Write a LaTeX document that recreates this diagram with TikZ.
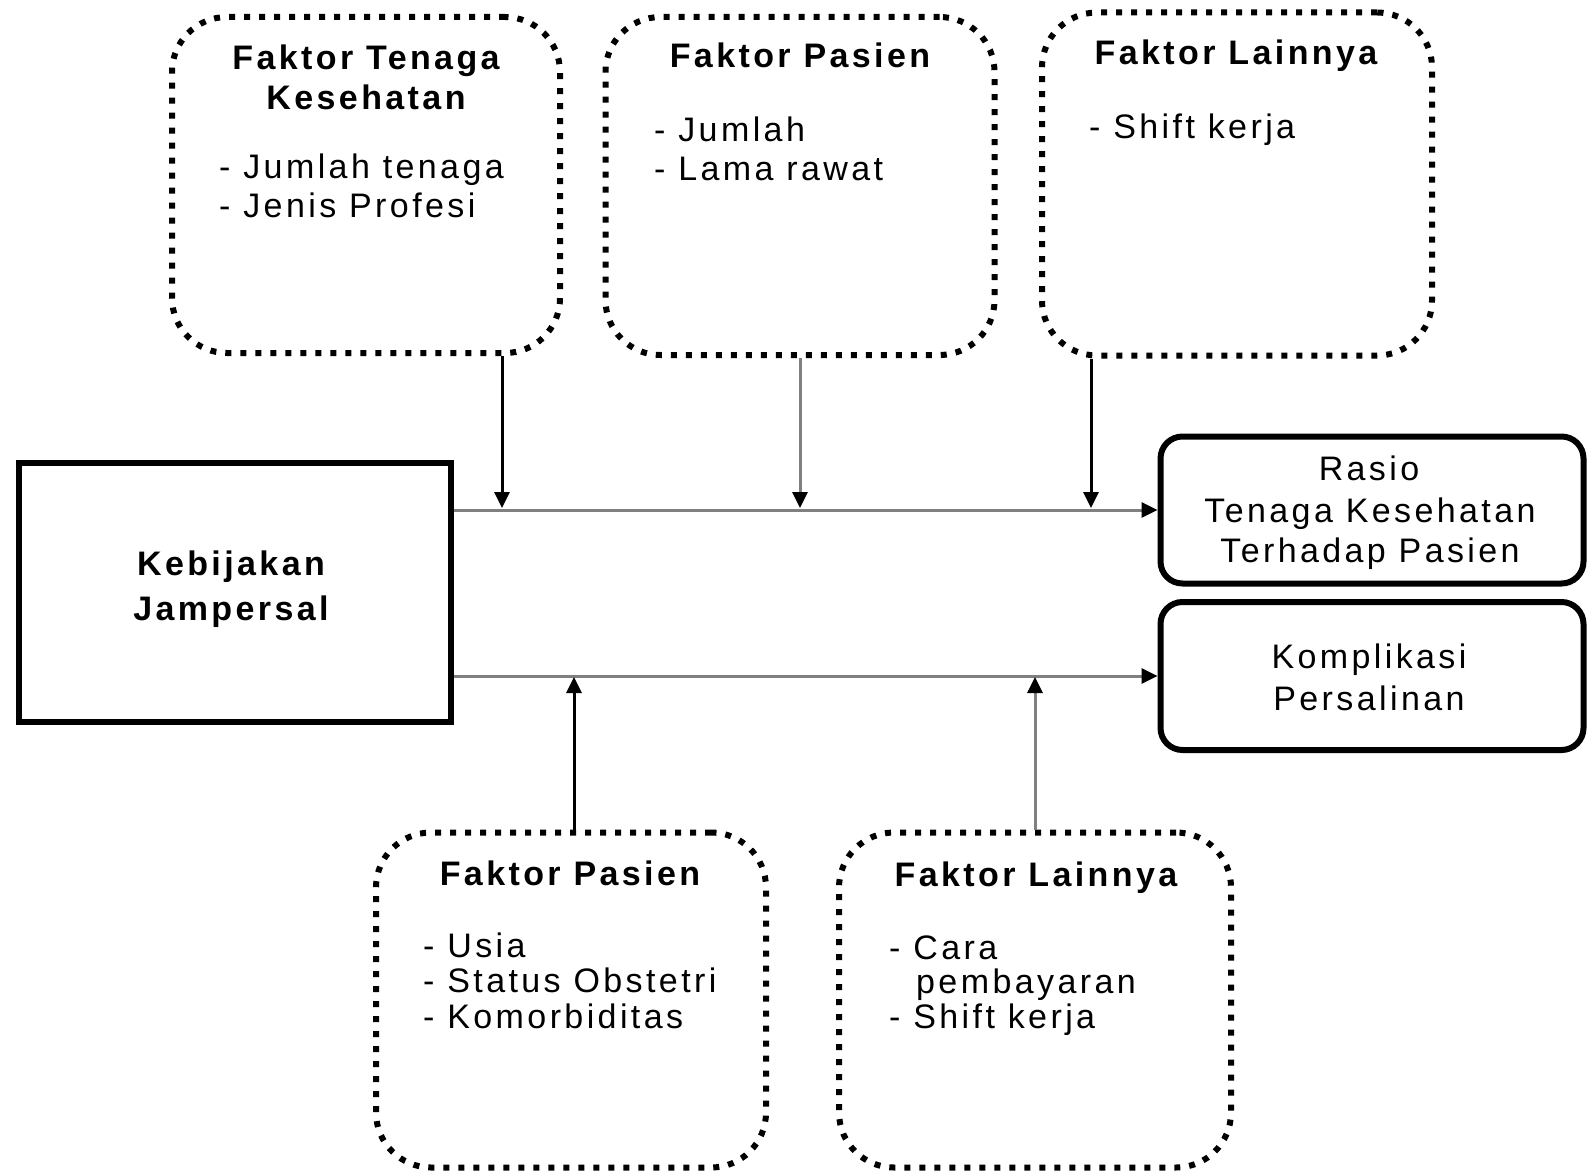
\documentclass[tikz,border=0pt]{standalone}
\usepackage{fontspec}
\setmainfont{Liberation Sans}[LetterSpace=10]
\usetikzlibrary{arrows.meta}
\definecolor{lgray}{HTML}{808080}
\begin{document}
\begin{tikzpicture}[x=1pt,y=-1pt,
  ttl/.style={anchor=base, inner sep=0pt, font=\bfseries\fontsize{34pt}{40pt}\selectfont},
  itm/.style={anchor=base west, inner sep=0pt, font=\fontsize{34pt}{40pt}\selectfont},
  ctr/.style={anchor=base, inner sep=0pt, font=\fontsize{34pt}{40pt}\selectfont},
  dotbox/.style={draw=black, line width=6pt, dash pattern=on 6pt off 9pt, rounded corners=55pt, inner sep=0pt},
  outbox/.style={draw=black, line width=6pt, rounded corners=22pt, inner sep=0pt},
  mainbox/.style={draw=black, line width=6pt, inner sep=0pt},
  blkarrow/.style={draw=black, line width=3pt, -{Triangle[width=15pt,length=16pt]}},
  grayarrow/.style={draw=lgray, line width=3pt, -{Triangle[width=15pt,length=16pt,color=black]}}
]
\useasboundingbox (0,0) rectangle (1589,1172);

% boxes
\node[dotbox, minimum width=388pt, minimum height=336pt] (tl) at (366,185) {};
\node[dotbox, minimum width=389pt, minimum height=338pt] (tm) at (800,186) {};
\node[dotbox, minimum width=390pt, minimum height=343pt] (tr) at (1237,184) {};
\node[dotbox, minimum width=390pt, minimum height=335pt] (bl) at (571,1000) {};
\node[dotbox, minimum width=392pt, minimum height=335pt] (br) at (1035,1000) {};
\node[mainbox, minimum width=432pt, minimum height=259pt] (keb) at (235,592) {};
\node[outbox, minimum width=423pt, minimum height=147pt] (rasio) at (1372,510) {};
\node[outbox, minimum width=423pt, minimum height=148pt] (kompl) at (1372,676) {};

% texts top-left
\node[ttl] (tlt1) at (366,70) {Faktor Tenaga};
\node[ttl] (tlt2) at (366,109) {Kesehatan};
\node[itm] (tli1) at (219,178) {- Jumlah tenaga};
\node[itm] (tli2) at (219,217) {- Jenis Profesi};
% top-middle
\node[ttl] (tmt1) at (800,67) {Faktor Pasien};
\node[itm] (tmi1) at (654,141) {- Jumlah};
\node[itm] (tmi2) at (654,180) {- Lama rawat};
% top-right
\node[ttl] (trt1) at (1236,64) {Faktor Lainnya};
\node[itm] (tri1) at (1089,138) {- Shift kerja};
% bottom-left
\node[ttl] (blt1) at (570,885) {Faktor Pasien};
\node[itm] (bli1) at (423,957) {- Usia};
\node[itm] (bli2) at (423,992) {- Status Obstetri};
\node[itm] (bli3) at (423,1028) {- Komorbiditas};
% bottom-right
\node[ttl] (brt1) at (1036,886) {Faktor Lainnya};
\node[itm] (bri1) at (889,959) {- Cara};
\node[itm] (bri2) at (916,993) {pembayaran};
\node[itm] (bri3) at (889,1028) {- Shift kerja};
% main box
\node[ttl] (kebt1) at (231,575) {Kebijakan};
\node[ttl] (kebt2) at (231,620) {Jampersal};
% outcome boxes
\node[ctr] (rat1) at (1369,480) {Rasio};
\node[ctr] (rat2) at (1370,522) {Tenaga Kesehatan};
\node[ctr] (rat3) at (1370,562) {Terhadap Pasien};
\node[ctr] (kot1) at (1369,668) {Komplikasi};
\node[ctr] (kot2) at (1369,710) {Persalinan};

% horizontal connectors
\draw[grayarrow] (keb.east |- rasio.west) -- (rasio.west);
\draw[grayarrow] (keb.east |- kompl.west) -- (kompl.west);

% vertical connectors
\coordinate (d1) at (502,508);
\coordinate (d2) at (800,508);
\coordinate (d3) at (1091,508);
\coordinate (u1) at (574,677);
\coordinate (u2) at (1035,677);
\draw[blkarrow] (tl.south -| d1) -- (d1);
\draw[grayarrow] (tm.south -| d2) -- (d2);
\draw[blkarrow] (tr.south -| d3) -- (d3);
\draw[blkarrow] (bl.north -| u1) -- (u1);
\draw[grayarrow] (br.north -| u2) -- (u2);
\end{tikzpicture}
\end{document}
